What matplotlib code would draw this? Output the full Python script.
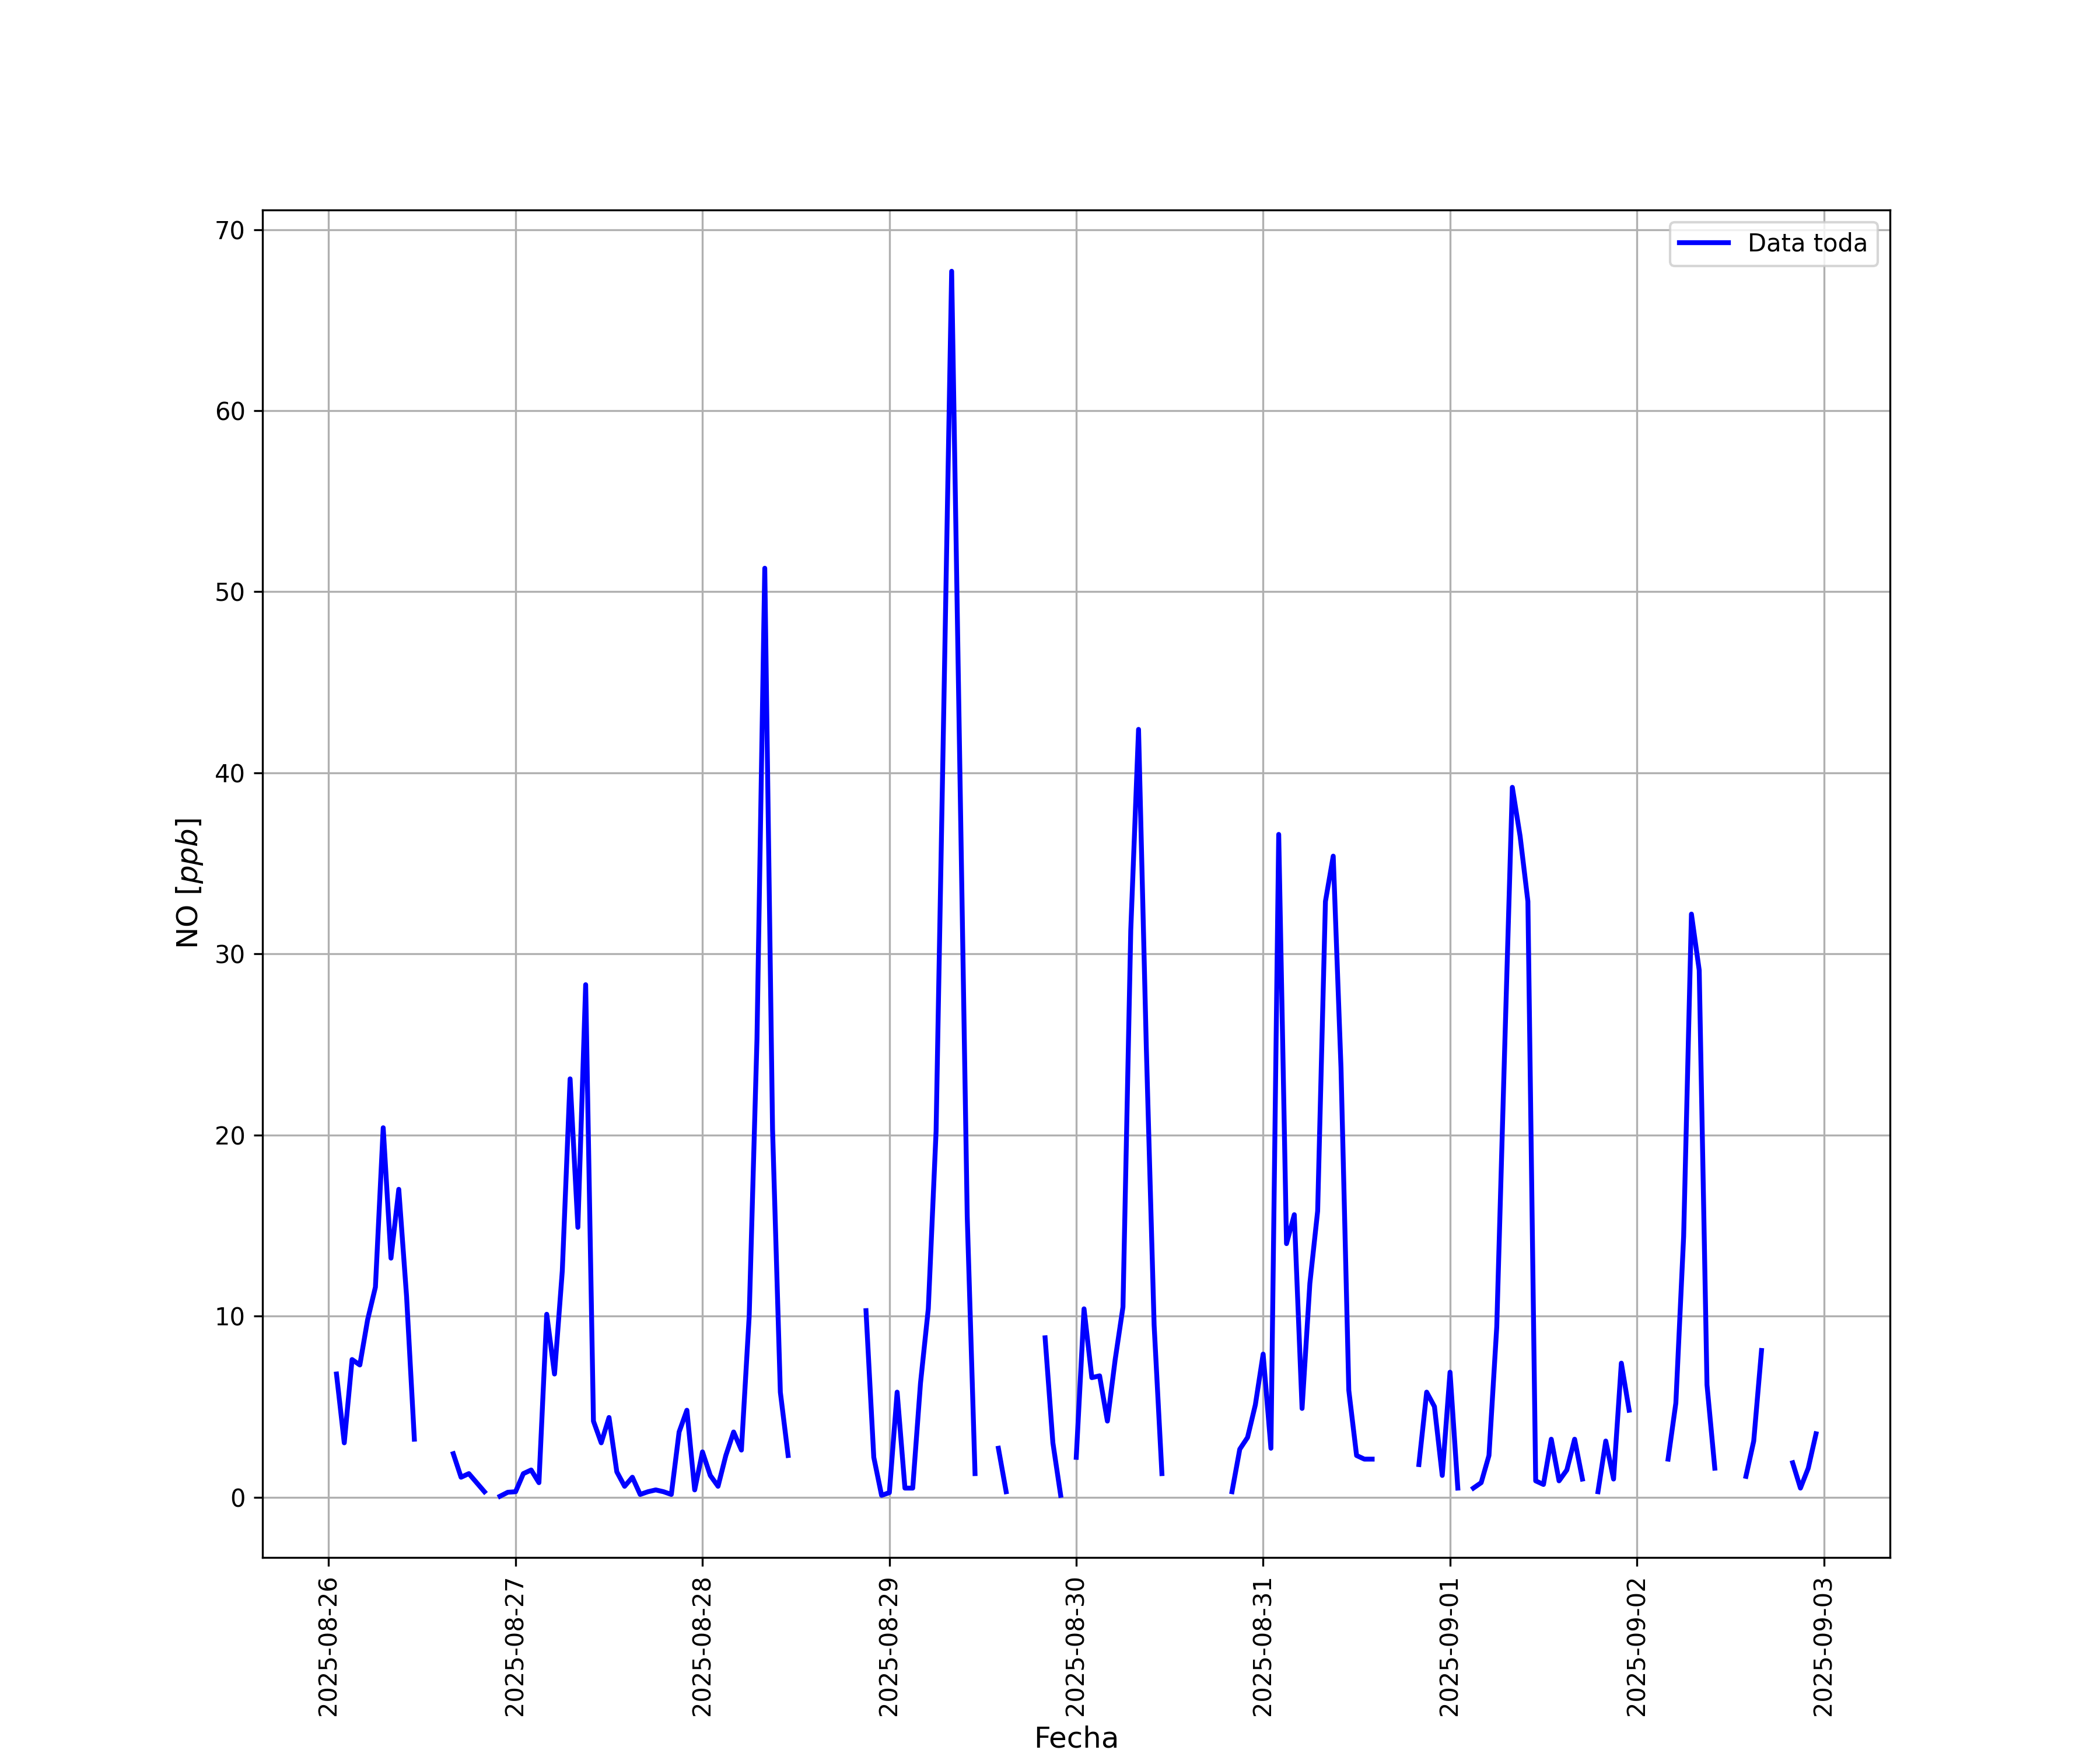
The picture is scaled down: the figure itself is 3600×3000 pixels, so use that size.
import numpy as np
import pandas as pd
import matplotlib
matplotlib.use('Agg')
import matplotlib.pyplot as plt

nan = np.nan

# NO hourly values [ppb], one list per day (00h..23h); nan = no data
no_0826 = [nan, 6.8, 3.0, 7.6, 7.3, 9.8, 11.6, 20.4, 13.2, 17.0, 11.1, 3.2,
           nan, nan, nan, nan, 2.4, 1.1, 1.3, 0.8, 0.3, nan, 0.05, 0.27]
no_0827 = [0.3, 1.3, 1.5, 0.8, 10.1, 6.8, 12.5, 23.1, 14.9, 28.3, 4.2, 3.0,
           4.4, 1.4, 0.6, 1.1, 0.15, 0.3, 0.4, 0.3, 0.15, 3.6, 4.8, 0.4]
no_0828 = [2.5, 1.2, 0.6, 2.3, 3.6, 2.6, 10.0, 25.3, 51.3, 20.3, 5.8, 2.3,
           nan, nan, nan, nan, nan, nan, nan, nan, nan, 10.3, 2.2, 0.1]
no_0829 = [0.25, 5.8, 0.5, 0.5, 6.3, 10.4, 20.2, 43.8, 67.7, 41.5, 15.5, 1.3,
           nan, nan, 2.7, 0.3, nan, nan, nan, nan, 8.8, 3.0, 0.1, nan]
no_0830 = [2.2, 10.4, 6.6, 6.7, 4.2, 7.6, 10.5, 31.3, 42.4, 24.8, 9.5, 1.3,
           nan, nan, nan, nan, nan, nan, nan, nan, 0.3, 2.65, 3.3, 5.1]
no_0831 = [7.9, 2.7, 36.6, 14.0, 15.6, 4.9, 11.8, 15.8, 32.9, 35.4, 23.7, 5.9,
           2.3, 2.1, 2.1, nan, nan, nan, nan, nan, 1.8, 5.8, 5.0, 1.2]
no_0901 = [6.9, 0.5, nan, 0.5, 0.8, 2.3, 9.4, 24.5, 39.2, 36.5, 32.9, 0.9,
           0.7, 3.2, 0.9, 1.5, 3.2, 1.0, nan, 0.3, 3.1, 1.0, 7.4, 4.8]
no_0902 = [nan, nan, nan, nan, 2.1, 5.2, 14.4, 32.2, 29.1, 6.2, 1.6, nan,
           nan, nan, 1.15, 3.1, 8.1, nan, nan, nan, 1.9, 0.5, 1.6, 3.5]

valores = (no_0826 + no_0827 + no_0828 + no_0829 + no_0830 + no_0831
           + no_0901 + no_0902)
fechas = pd.date_range('2025-08-26 00:00', periods=len(valores), freq='h')

df = pd.DataFrame({'fecha': fechas, 'NO': valores})
df = df.iloc[1:]  # la serie empieza a la 01:00

fig = plt.figure(figsize=(12, 10))
plt.plot(df['fecha'], df['NO'], color='blue', lw=2, label='Data toda')
plt.xlabel('Fecha', fontsize=12)
plt.ylabel('NO [$ppb$]', fontsize=12)
plt.xticks(rotation=90)
plt.grid()
plt.legend(loc='upper right')
plt.savefig('out.png', dpi=300)
